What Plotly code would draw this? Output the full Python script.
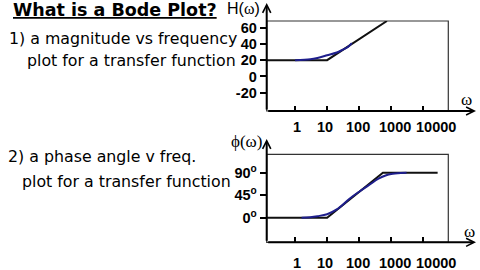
import math
import plotly.graph_objects as go

W, H = 480, 270

# ---------------- data ----------------
freq_ticks = [1, 10, 100, 1000, 10000]
freq_tick_text = ["1", "10", "100", "1000", "10000"]

mag_ticks = [-20, 0, 20, 40, 60]
mag_tick_text = ["-20", "0", "20", "40", "60"]

phase_ticks = [0, 45, 90]
phase_tick_text = ["0<sup>o</sup>", "45<sup>o</sup>", "90<sup>o</sup>"]

# straight-line (asymptotic) magnitude
mag_asym_w = [0.13, 10, 734]
mag_asym_db = [20, 20, 68.2]
# actual magnitude curve
mag_w = [1, 3, 5, 10, 20, 30, 45, 59]
mag_db = [20, 21.2, 22.8, 26, 29.4, 32.7, 36.4, 40.9]

# straight-line (asymptotic) phase
ph_asym_w = [0.13, 10, 550, 28000]
ph_asym_deg = [0, 0, 90, 90]
# actual phase curve
ph_w = [1.6, 3, 5, 10, 20, 50, 100, 200, 400, 700, 1000, 2000, 3000]
ph_deg = [0, 1, 3, 7, 16.5, 38, 52, 65, 78, 85, 87.5, 89.5, 90]

# styling: hand-placed label nudges (pixels) as on the original slide
LABEL_NUDGE = [2, -2, -1, 4, 13]

BLACK = "#111111"
BLUE = "#1e1e8c"


def px(x):
    return x / W


def py(y):
    return 1 - y / H


fig = go.Figure()

fig.add_trace(go.Scatter(x=mag_asym_w, y=mag_asym_db, mode="lines",
                         line=dict(color=BLACK, width=2), xaxis="x", yaxis="y"))
fig.add_trace(go.Scatter(x=mag_w, y=mag_db, mode="lines",
                         line=dict(color=BLUE, width=2, shape="spline"), xaxis="x", yaxis="y"))
fig.add_trace(go.Scatter(x=ph_asym_w, y=ph_asym_deg, mode="lines",
                         line=dict(color=BLACK, width=2), xaxis="x2", yaxis="y2"))
fig.add_trace(go.Scatter(x=ph_w, y=ph_deg, mode="lines",
                         line=dict(color=BLUE, width=2, shape="spline"), xaxis="x2", yaxis="y2"))

xdom = [px(266.7), px(448.3)]
tickfont = dict(family="Liberation Sans, Arial", size=14.5, color="black", weight="bold")

common_x = dict(type="log", range=[-0.884, 4.78], domain=xdom, showgrid=False,
                zeroline=False, showline=False, ticks="inside", ticklen=5,
                tickwidth=1.5, tickcolor="black", tickvals=freq_ticks,
                showticklabels=False, automargin=False)
common_y = dict(showgrid=False, zeroline=False, showline=False, ticks="outside",
                ticklen=6, tickwidth=1.5, tickcolor="black", tickfont=tickfont,
                automargin=False)

fig.update_layout(
    template="none",
    width=W, height=H, margin=dict(l=0, r=0, t=0, b=0, pad=0),
    paper_bgcolor="white", plot_bgcolor="white", showlegend=False,
    xaxis=dict(anchor="y", **common_x),
    yaxis=dict(anchor="x", domain=[py(111), py(21)], range=[-42.5, 68.2],
               tickvals=mag_ticks, ticktext=mag_tick_text, **common_y),
    xaxis2=dict(anchor="y2", **common_x),
    yaxis2=dict(anchor="x2", domain=[py(242.3), py(154.3)], range=[-49.2, 126.8],
                tickvals=phase_ticks, ticktext=phase_tick_text, **common_y),
)

# frequency tick labels, placed on each log axis at its decade
for xr, ylab in (("x", 127), ("x2", 263.3)):
    for v, t, nudge in zip(freq_ticks, freq_tick_text, LABEL_NUDGE):
        fig.add_annotation(xref=xr, yref="paper", x=math.log10(v), y=py(ylab),
                           xshift=nudge, text=t, showarrow=False,
                           xanchor="center", yanchor="middle", font=tickfont)

# frames
for xr, yr in (("x", "y"), ("x2", "y2")):
    fig.add_shape(type="rect", xref=f"{xr} domain", yref=f"{yr} domain",
                  x0=0, x1=1, y0=0, y1=1, layer="below",
                  line=dict(color="#333333", width=1.2))

# axis arrows
arrows = [
    (476, 111, -(476 - 266.7), 0),
    (476, 242.3, -(476 - 266.7), 0),
    (266.7, 3, 0, 111 - 3),
    (266.7, 139, 0, 242.3 - 139),
]
for x, y, ax, ay in arrows:
    fig.add_annotation(xref="paper", yref="paper", x=px(x), y=py(y), ax=ax, ay=ay,
                       axref="pixel", ayref="pixel", text="", showarrow=True,
                       arrowhead=5, arrowsize=0.8, arrowwidth=2, arrowcolor="black")

SANS = "DejaVu Sans"
texts = [
    ("<b><u>What is a Bode Plot?</u></b>", 11, 10, 17.5),
    ("1) a magnitude vs frequency", 7, 39, 15.8),
    ("plot for a transfer function", 25, 60.5, 15.8),
    ("2) a phase angle v freq.", 6, 156.7, 15.8),
    ("plot for a transfer function", 20, 181.7, 15.8),
]
for t, x, y, s in texts:
    fig.add_annotation(xref="paper", yref="paper", x=px(x), y=py(y), text=t,
                       showarrow=False, xanchor="left", yanchor="middle",
                       font=dict(family=SANS, size=s, color="black"))

SERIF = "Liberation Serif"
labels = [
    ("H(<span style='font-family:Liberation Serif'>ω</span>)", 225, 9, "left", 16),
    ("<span style='font-family:Liberation Serif'>ϕ(ω)</span>", 229, 141, "left", 17),
    ("ω", 466, 99, "center", 17),
    ("ω", 469, 231, "center", 17),
]
for t, x, y, anc, s in labels:
    fig.add_annotation(xref="paper", yref="paper", x=px(x), y=py(y), text=t,
                       showarrow=False, xanchor=anc, yanchor="middle",
                       font=dict(family="Liberation Sans, Arial" if t.startswith("H") else SERIF,
                                 size=s, color="black"))

fig.write_html("out.html")
